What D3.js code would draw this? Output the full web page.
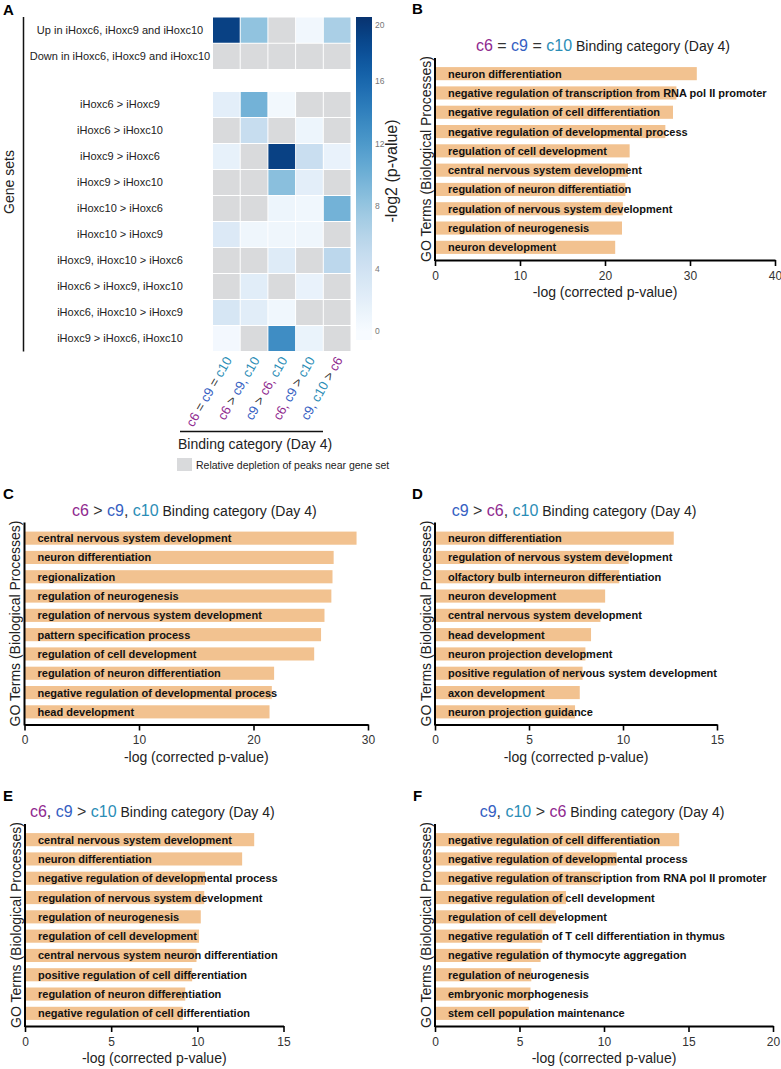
<!DOCTYPE html>
<html><head><meta charset="utf-8">
<script src="https://cdn.jsdelivr.net/npm/d3@7"></script>
<style>
body{margin:0;background:#fff;}
svg{font-family:"Liberation Sans",Arial,Helvetica,sans-serif;background:#fff;}
text{white-space:pre;}
</style></head><body>
<svg id="fig" width="781" height="1069"></svg>
<script>
// ---------------- DATA ----------------
const heatCols = ["c6 = c9 = c10", "c6 > c9, c10", "c9 > c6, c10", "c6, c9 > c10", "c9, c10 > c6"];
const heatColTokens = [
  [["c6","c6"],[" = ","op"],["c9","c9"],[" = ","op"],["c10","c10"]],
  [["c6","c6"],[" > ","op"],["c9,","c9"],[" c10","c10"]],
  [["c9","c9"],[" > ","op"],["c6,","c6"],[" c10","c10"]],
  [["c6,","c6"],[" c9","c9"],[" > ","op"],["c10","c10"]],
  [["c9,","c9"],[" c10","c10"],[" > ","op"],["c6","c6"]]
];
const heatRowsTop = ["Up in iHoxc6, iHoxc9 and iHoxc10", "Down in iHoxc6, iHoxc9 and iHoxc10"];
const heatValuesTop = [
  [19, 8.2, null, 0.6, 6.8],
  [null, null, null, null, null]
];
const heatRowsBottom = ["iHoxc6 > iHoxc9", "iHoxc6 > iHoxc10", "iHoxc9 > iHoxc6", "iHoxc9 > iHoxc10",
  "iHoxc10 > iHoxc6", "iHoxc10 > iHoxc9", "iHoxc9, iHoxc10 > iHoxc6", "iHoxc6 > iHoxc9, iHoxc10",
  "iHoxc6, iHoxc10 > iHoxc9", "iHoxc9 > iHoxc6, iHoxc10"];
const heatValuesBottom = [
  [2.0, 9.8, 0.5, null, null],
  [null, 4.8, null, 1.0, null],
  [1.6, null, 19, 4.6, 1.4],
  [null, null, 8.6, 2.0, null],
  [null, null, 1.0, 0.7, 9.8],
  [2.8, 0.8, 0.8, 0.8, null],
  [null, null, 2.6, null, 5.6],
  [null, 2.2, null, 1.4, null],
  [3.4, 2.2, 0.7, null, null],
  [0.4, null, 13, 1.3, null]
];
const colorbarTicks = [0, 4, 8, 12, 16, 20];

const titleB = [["c6","c6"],[" = ","op"],["c9","c9"],[" = ","op"],["c10","c10"]];
const termsB = ["neuron differentiation","negative regulation of transcription from RNA pol II promoter",
  "negative regulation of cell differentiation","negative regulation of developmental process",
  "regulation of cell development","central nervous system development","regulation of neuron differentiation",
  "regulation of nervous system development","regulation of neurogenesis","neuron development"];
const valuesB = [30.8, 28.4, 28.0, 27.1, 22.9, 22.7, 22.4, 22.1, 22.0, 21.2];
const ticksB = [0, 10, 20, 30, 40];

const titleC = [["c6","c6"],[" > ","op"],["c9","c9"],[", ","op"],["c10","c10"]];
const termsC = ["central nervous system development","neuron differentiation","regionalization",
  "regulation of neurogenesis","regulation of nervous system development","pattern specification process",
  "regulation of cell development","regulation of neuron differentiation",
  "negative regulation of developmental process","head development"];
const valuesC = [29.0, 27.0, 26.9, 26.8, 26.2, 25.9, 25.3, 21.8, 21.6, 21.4];
const ticksC = [0, 10, 20, 30];

const titleD = [["c9","c9"],[" > ","op"],["c6","c6"],[", ","op"],["c10","c10"]];
const termsD = ["neuron differentiation","regulation of nervous system development",
  "olfactory bulb interneuron differentiation","neuron development","central nervous system development",
  "head development","neuron projection development","positive regulation of nervous system development",
  "axon development","neuron projection guidance"];
const valuesD = [12.7, 10.3, 9.8, 9.05, 8.8, 8.3, 8.0, 7.85, 7.7, 7.45];
const ticksD = [0, 5, 10, 15];

const titleE = [["c6","c6"],[", ","op"],["c9","c9"],[" > ","op"],["c10","c10"]];
const termsE = ["central nervous system development","neuron differentiation",
  "negative regulation of developmental process","regulation of nervous system development",
  "regulation of neurogenesis","regulation of cell development","central nervous system neuron differentiation",
  "positive regulation of cell differentiation","regulation of neuron differentiation",
  "negative regulation of cell differentiation"];
const valuesE = [13.3, 12.6, 10.45, 10.4, 10.2, 10.1, 9.95, 9.7, 9.3, 9.15];
const ticksE = [0, 5, 10, 15];

const titleF = [["c9","c9"],[", ","op"],["c10","c10"],[" > ","op"],["c6","c6"]];
const termsF = ["negative regulation of cell differentiation","negative regulation of developmental process",
  "negative regulation of transcription from RNA pol II promoter","negative regulation of cell development",
  "regulation of cell development","negative regulation of T cell differentiation in thymus",
  "negative regulation of thymocyte aggregation","regulation of neurogenesis","embryonic morphogenesis",
  "stem cell population maintenance"];
const valuesF = [14.45, 10.75, 9.8, 7.75, 7.15, 6.35, 6.25, 5.7, 5.65, 5.55];
const ticksF = [0, 5, 10, 15, 20];

// ---------------- STYLE ----------------
const tokenColor = {c6:"#8f2a8f", c9:"#3560c2", c10:"#2b8db6", op:"#333"};
const barColor = "#f2c290";
const depletedColor = "#d9dadc";

const svg = d3.select("#fig");
svg.append("rect").attr("width",781).attr("height",1069).attr("fill","#fff");

function panelLabel(t, x, y){
  svg.append("text").attr("x",x).attr("y",y).attr("font-size",15).attr("font-weight","bold")
    .attr("fill","#000").text(t);
}

// ---------------- PANEL A ----------------
(function(){
  const g = svg.append("g");
  const color = d3.scaleSequential(d3.interpolateBlues).domain([0, 20.3]).clamp(true);
  const xH = d3.scaleBand().domain(heatCols).range([212.5, 351]);
  const yTop = d3.scaleBand().domain(heatRowsTop).range([17, 69.5]);
  const yBot = d3.scaleBand().domain(heatRowsBottom).range([91.5, 351.5]);
  const groups = [[heatRowsTop, heatValuesTop, yTop],[heatRowsBottom, heatValuesBottom, yBot]];
  groups.forEach(([rows, vals, ys]) => {
    rows.forEach((r, i) => {
      g.selectAll(null).data(vals[i]).enter().append("rect")
        .attr("x", (d,j) => xH(heatCols[j]) + 0.5)
        .attr("y", ys(r) + 0.5)
        .attr("width", xH.bandwidth() - 1)
        .attr("height", ys.bandwidth() - 1)
        .attr("fill", d => d == null ? depletedColor : color(d));
      g.append("text").attr("x", 120).attr("y", ys(r) + ys.bandwidth()/2).attr("dy","0.35em")
        .attr("text-anchor","middle").attr("font-size",11).attr("fill","#222").text(r);
    });
  });
  // left bracket + Gene sets
  g.append("line").attr("x1",23.5).attr("x2",23.5).attr("y1",yTop.range()[0]).attr("y2",yBot.range()[1])
    .attr("stroke","#111").attr("stroke-width",1.5);
  g.append("text").attr("transform","translate(14,182) rotate(-90)").attr("text-anchor","middle")
    .attr("font-size",14).attr("fill","#222").text("Gene sets");
  // column labels
  heatCols.forEach((c, j) => {
    const t = g.append("text")
      .attr("transform", `translate(${xH(c) + xH.bandwidth()/2 + 6},360) rotate(-60)`)
      .attr("text-anchor","end").attr("font-size",13);
    heatColTokens[j].forEach(([s, k]) => t.append("tspan").attr("fill", tokenColor[k]).text(s));
  });
  g.append("line").attr("x1",180).attr("x2",323).attr("y1",431.5).attr("y2",431.5)
    .attr("stroke","#111").attr("stroke-width",1.5);
  g.append("text").attr("x",178).attr("y",449).attr("font-size",14).attr("fill","#222")
    .text("Binding category (Day 4)");
  g.append("rect").attr("x",177).attr("y",458).attr("width",15).attr("height",13).attr("fill",depletedColor);
  g.append("text").attr("x",196).attr("y",468.5).attr("font-size",10.5).attr("fill","#222")
    .text("Relative depletion of peaks near gene set");
  // colorbar
  const cb = d3.scaleLinear().domain([0, 20]).range([331, 18.5]);
  const cbTop = 17, cbBot = 340;
  const grad = svg.append("defs").append("linearGradient").attr("id","cbgrad")
    .attr("x1",0).attr("x2",0).attr("y1",1).attr("y2",0);
  d3.range(0, 41).forEach(i => {
    const yy = cbBot - (cbBot - cbTop) * i / 40;
    grad.append("stop").attr("offset", (i/40*100) + "%").attr("stop-color", color(Math.max(0, cb.invert(yy))));
  });
  g.append("rect").attr("x",356).attr("y",cbTop).attr("width",16).attr("height",cbBot-cbTop)
    .attr("fill","url(#cbgrad)");
  const ax = g.append("g").attr("transform","translate(372,0)")
    .call(d3.axisRight(cb).tickValues(colorbarTicks).tickSize(0).tickPadding(3));
  ax.select(".domain").remove();
  ax.selectAll("text").attr("font-size",8.5).attr("fill","#777").attr("font-family",null)
    .attr("dy", d => d === 20 ? "1.1em" : "0.32em");
  g.append("text").attr("transform","translate(397,171) rotate(-90)").attr("text-anchor","middle")
    .attr("font-size",16).attr("fill","#222").text("-log2 (p-value)");
})();
panelLabel("A", 3, 15);

// ---------------- BAR PANELS ----------------
function barPanel(cfg){
  const {terms, values, ticks, title, x0, x1, axisY} = cfg;
  const g = svg.append("g");
  const x = d3.scaleLinear().domain([0, d3.max(ticks)]).range([x0, x1]);
  const y = d3.scaleBand().domain(terms).range([axisY - 196, axisY - 3]).paddingInner(0.32).paddingOuter(0.16);
  g.selectAll(null).data(terms).enter().append("rect")
    .attr("x", x(0)).attr("y", d => y(d))
    .attr("width", (d,i) => x(values[i]) - x(0))
    .attr("height", y.bandwidth()).attr("fill", barColor);
  g.selectAll(null).data(terms).enter().append("text")
    .attr("x", x(0) + 13).attr("y", d => y(d) + y.bandwidth()/2).attr("dy","0.36em")
    .attr("font-size",11).attr("font-weight","bold").attr("fill","#111").text(d => d);
  const ax = g.append("g").attr("transform",`translate(0,${axisY})`)
    .call(d3.axisBottom(x).tickValues(ticks).tickSize(6).tickSizeOuter(0).tickPadding(5));
  ax.select(".domain").attr("stroke","#000").attr("stroke-width",2);
  ax.selectAll(".tick line").attr("stroke","#000").attr("stroke-width",1.6);
  ax.selectAll("text").attr("font-size",12).attr("fill","#333").attr("font-family",null);
  g.append("line").attr("x1",x0).attr("x2",x0).attr("y1",axisY - 202).attr("y2",axisY + 1)
    .attr("stroke","#000").attr("stroke-width",2);
  g.append("text").attr("transform",`translate(${x0 - 4.5},${axisY - 101}) rotate(-90)`)
    .attr("text-anchor","middle").attr("font-size",14).attr("fill","#222")
    .text("GO Terms (Biological Processes)");
  g.append("text").attr("x",(x0+x1)/2).attr("y",axisY + 37).attr("text-anchor","middle")
    .attr("font-size",14).attr("fill","#222").text("-log (corrected p-value)");
  const t = g.append("text").attr("x",(x0+x1)/2 - 2).attr("y",axisY - 209).attr("text-anchor","middle");
  title.forEach(([s,k]) => t.append("tspan").attr("fill",tokenColor[k]).attr("font-size",16).text(s));
  t.append("tspan").attr("fill","#222").attr("font-size",14).text(" Binding category (Day 4)");
}

barPanel({terms:termsB, values:valuesB, ticks:ticksB, title:titleB, x0:435, x1:775, axisY:260});
barPanel({terms:termsC, values:valuesC, ticks:ticksC, title:titleC, x0:24.5, x1:368, axisY:724.5});
barPanel({terms:termsD, values:valuesD, ticks:ticksD, title:titleD, x0:435, x1:717, axisY:724.5});
barPanel({terms:termsE, values:valuesE, ticks:ticksE, title:titleE, x0:25, x1:283.5, axisY:1026});
barPanel({terms:termsF, values:valuesF, ticks:ticksF, title:titleF, x0:435, x1:773, axisY:1026});

panelLabel("B", 412, 14);
panelLabel("C", 3, 499);
panelLabel("D", 412, 499);
panelLabel("E", 3, 801);
panelLabel("F", 413, 801);
</script>
</body></html>
